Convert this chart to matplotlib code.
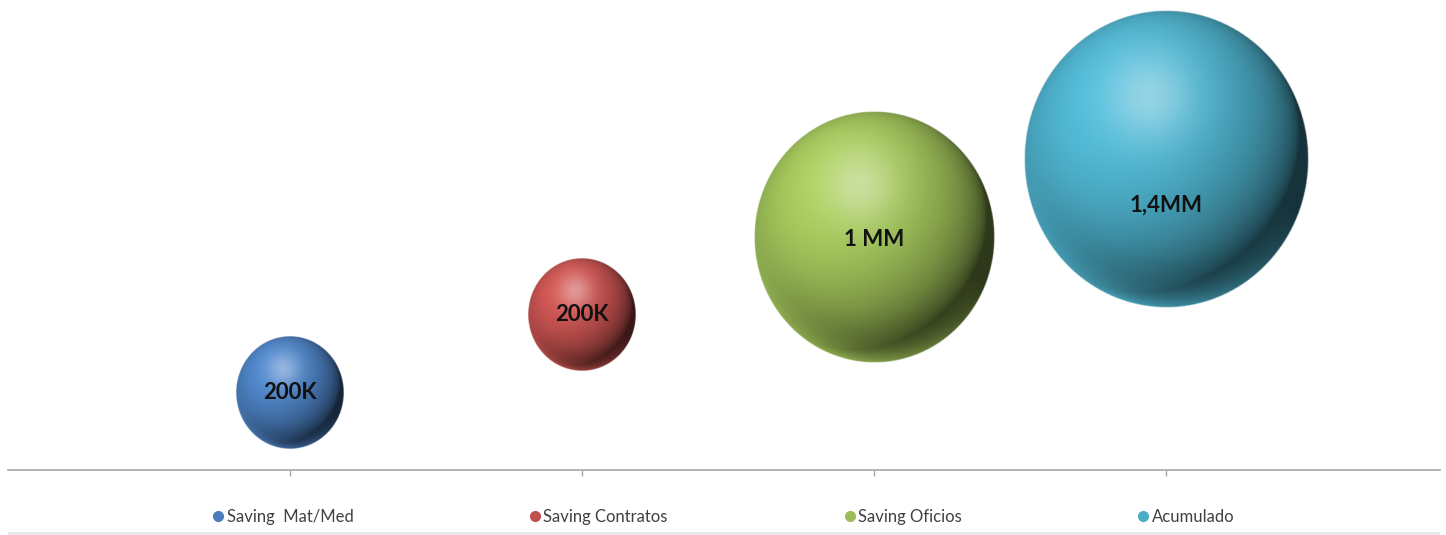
import numpy as np
import matplotlib
matplotlib.use("Agg")
import matplotlib.pyplot as plt
from matplotlib.colors import to_rgb
from matplotlib.lines import Line2D

# data
categories = ['Saving  Mat/Med', 'Saving Contratos', 'Saving Oficios', 'Acumulado']
x_vals = [1, 2, 3, 4]
y_vals = [1, 2, 3, 4]
values_k = [200, 200, 1000, 1400]
labels = ['200K', '200K', '1 MM', '1,4MM']

colors = ['#4a7dbc', '#c0504d', '#9cbd57', '#4bacc6']
label_dy_px = [0, 0, -2, -45]   # Excel put the big label lower than center
PX_PER_SQRT_K = 3.8              # bubble radius in px per sqrt(value in K)
Y_STRETCH = 1.045                # bubbles are a bit taller than wide

plt.rcParams['font.family'] = ['Lato', 'DejaVu Sans']

W, H, DPI = 1446, 535, 100
fig = plt.figure(figsize=(W / DPI, H / DPI), dpi=DPI)
ax = fig.add_axes([8 / W, 65 / H, 1432 / W, 470 / H])
ax.set_xlim(0.034, 4.938)
ax.set_ylim(0, 6.06)


def sphere_rgba(base, n=400):
    base = np.array(to_rgb(base))
    t = np.linspace(-1, 1, n)
    u, v = np.meshgrid(t, t)          # v up (origin lower)
    r2 = u ** 2 + v ** 2
    z = np.sqrt(np.clip(1 - r2, 0, 1))
    L = np.array([-0.35, 0.45, 0.82])
    L = L / np.linalg.norm(L)
    d = np.clip(u * L[0] + v * L[1] + z * L[2], 0, 1)
    shade = 0.3 + 0.82 * d ** 0.7
    col = base[None, None, :] * shade[..., None]
    # soft tinted highlight up and to the left
    light = base + (1 - base) * 0.65
    spec = np.exp(-((u + 0.12) ** 2 + (v - 0.42) ** 2) / 0.09)
    col = col * (1 - 0.6 * spec[..., None]) + light * 0.6 * spec[..., None]
    # lighter rim at lower left (reflection)
    rim = np.clip((r2 - 0.5) / 0.5, 0, 1) ** 1.5
    side = np.clip(-0.7 * v - 0.5 * u + 0.2, 0, 1)
    w = (rim * side)[..., None] * 0.85
    col = col * (1 - w) + base[None, None, :] * w
    col = np.clip(col, 0, 1)
    r = np.sqrt(r2)
    alpha = np.clip((1 - r) * n / 2.5, 0, 1)
    return np.dstack([col, alpha])


# px per data unit, from the axes transform
p0 = ax.transData.transform((0, 0))
p1 = ax.transData.transform((1, 1))
px_x, px_y = p1[0] - p0[0], p1[1] - p0[1]

for x, y, val, lab, c, dy in zip(x_vals, y_vals, values_k, labels, colors, label_dy_px):
    r_px = PX_PER_SQRT_K * np.sqrt(val)
    rx, ry = r_px / px_x, r_px * Y_STRETCH / px_y
    ax.imshow(sphere_rgba(c), extent=[x - rx, x + rx, y - ry, y + ry],
              origin='lower', aspect='auto', interpolation='bilinear', zorder=2)
    ax.annotate(lab, (x, y), xytext=(0, dy * 72 / DPI), textcoords='offset points',
                ha='center', va='center', fontsize=16, fontweight='bold',
                color='#111111', zorder=3)

ax.set_xlim(0.034, 4.938)
ax.set_ylim(0, 6.06)

for s in ['top', 'right', 'left']:
    ax.spines[s].set_visible(False)
ax.spines['bottom'].set_color('#a6a6a6')
ax.spines['bottom'].set_linewidth(1.2)
ax.set_xticks(x_vals)
ax.set_xticklabels([])
ax.tick_params(axis='x', length=4, color='#a6a6a6', width=1)
ax.set_yticks([])

handles = [Line2D([], [], marker='o', ls='', markersize=7, markerfacecolor=c,
                  markeredgecolor=c, label=cat) for c, cat in zip(colors, categories)]
fig.legend(handles=handles, loc='center', bbox_to_anchor=(0.5, 18 / H), ncol=4,
           frameon=False, fontsize=12, handletextpad=0.1, columnspacing=10.5,
           labelcolor='#404040', handlelength=0.8)

# thin grey band at the very bottom
fig.add_artist(plt.Rectangle((8 / W, 0), 1432 / W, 3 / H, transform=fig.transFigure,
                             color='#e8e8e8', lw=0))

fig.savefig('out.png', dpi=DPI)
